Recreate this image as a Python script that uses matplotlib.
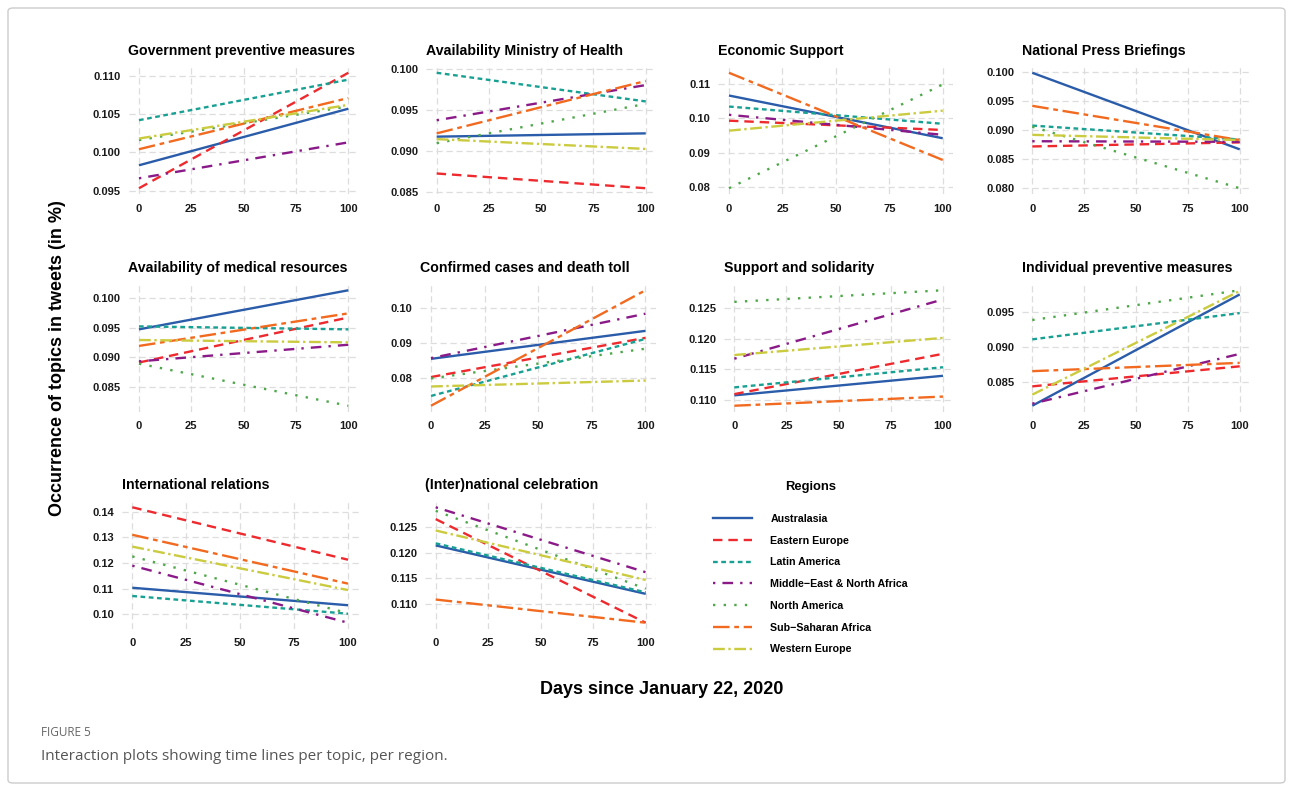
import matplotlib.pyplot as plt
from matplotlib.patches import FancyBboxPatch
from matplotlib.lines import Line2D

plt.rcParams['font.family'] = ['Liberation Sans', 'DejaVu Sans']

# data: value at day 0 and day 100, one pair per region
days = [0, 100]
regions = ["Australasia", "Eastern Europe", "Latin America",
           "Middle\u2212East & North Africa", "North America",
           "Sub\u2212Saharan Africa", "Western Europe"]

gov_prev = [[0.0983, 0.1057], [0.0953, 0.1104], [0.1042, 0.1095], [0.0966, 0.1013],
            [0.1016, 0.1060], [0.1004, 0.1071], [0.1018, 0.1062]]
ministry = [[0.0917, 0.0921], [0.0872, 0.0854], [0.0995, 0.0960], [0.0937, 0.0980],
            [0.0909, 0.0957], [0.0921, 0.0985], [0.0914, 0.0902]]
econ = [[0.1066, 0.0942], [0.0993, 0.0966], [0.1034, 0.0984], [0.1010, 0.0952],
        [0.0797, 0.1098], [0.1132, 0.0879], [0.0964, 0.1022]]
press = [[0.0999, 0.0867], [0.0872, 0.0879], [0.0908, 0.0884], [0.0881, 0.0880],
         [0.0906, 0.0800], [0.0942, 0.0883], [0.0892, 0.0883]]
medical = [[0.0947, 0.1013], [0.0891, 0.0967], [0.0952, 0.0947], [0.0893, 0.0921],
           [0.0889, 0.0818], [0.0919, 0.0974], [0.0929, 0.0925]]
cases = [[0.0855, 0.0935], [0.0803, 0.0915], [0.0749, 0.0912], [0.0857, 0.0984],
         [0.0799, 0.0884], [0.0721, 0.1051], [0.0776, 0.0793]]
support = [[0.1107, 0.1139], [0.1109, 0.1175], [0.1120, 0.1153], [0.1167, 0.1264],
           [0.1260, 0.1279], [0.1090, 0.1105], [0.1173, 0.1201]]
individual = [[0.0815, 0.0976], [0.0843, 0.0872], [0.0911, 0.0949], [0.0818, 0.0890],
              [0.0939, 0.0982], [0.0865, 0.0877], [0.0831, 0.0981]]
intl = [[0.1104, 0.1036], [0.1417, 0.1213], [0.1072, 0.1003], [0.1190, 0.0968],
        [0.1226, 0.1005], [0.1310, 0.1120], [0.1264, 0.1095]]
celebration = [[0.1214, 0.1120], [0.1265, 0.1064], [0.1218, 0.1123], [0.1288, 0.1162],
               [0.1281, 0.1130], [0.1109, 0.1064], [0.1243, 0.1147]]

titles = ["Government preventive measures", "Availability Ministry of Health",
          "Economic Support", "National Press Briefings",
          "Availability of medical resources", "Confirmed cases and death toll",
          "Support and solidarity", "Individual preventive measures",
          "International relations", "(Inter)national celebration"]
topic_data = [gov_prev, ministry, econ, press, medical, cases, support,
              individual, intl, celebration]
ytick_labels = [["0.095", "0.100", "0.105", "0.110"],
                ["0.085", "0.090", "0.095", "0.100"],
                ["0.08", "0.09", "0.10", "0.11"],
                ["0.080", "0.085", "0.090", "0.095", "0.100"],
                ["0.085", "0.090", "0.095", "0.100"],
                ["0.08", "0.09", "0.10"],
                ["0.110", "0.115", "0.120", "0.125"],
                ["0.085", "0.090", "0.095"],
                ["0.10", "0.11", "0.12", "0.13", "0.14"],
                ["0.110", "0.115", "0.120", "0.125"]]
xticks = [0, 25, 50, 75, 100]

colors = ["#2A5CAA", "#EE2A2E", "#18A192", "#8B1A89", "#4EA84A", "#F26A1F", "#CBCB3F"]
styles = ["solid", (0, (4, 2.5)), (0, (2, 1.5)), (0, (1, 3, 4.5, 3)),
          (0, (1, 3.5)), (0, (7, 2, 2, 2)), (0, (5, 1.5, 1, 1.5))]

W, H = 1293, 791
fig = plt.figure(figsize=(W / 100, H / 100), dpi=100)

# panel layout in pixels
lefts = [[128.5, 426.2, 718.3, 1021.9], [128.5, 420.3, 723.9, 1021.9], [121.5, 425.2]]
rights = [358.8, 656.2, 953.4, 1250.1]
tops = [67, 284.5, 501.5]
ph = 127

k = 0
for r in range(3):
    for c in range(len(lefts[r])):
        x0 = lefts[r][c]
        x1 = rights[c]
        ax = fig.add_axes([x0 / W, 1 - (tops[r] + ph) / H, (x1 - x0) / W, ph / H])
        for i, vals in enumerate(topic_data[k]):
            ax.plot(days, vals, color=colors[i], linestyle=styles[i], lw=1.7,
                    solid_capstyle='butt', dash_capstyle='butt')
        ax.set_yticks([float(t) for t in ytick_labels[k]])
        ax.set_yticklabels(ytick_labels[k])
        ax.set_xticks(xticks)
        ax.grid(True, color="#DDDDDD", linestyle=(0, (5, 3)), lw=0.9)
        ax.set_axisbelow(True)
        for s in ax.spines.values():
            s.set_visible(False)
        ax.tick_params(axis='y', length=0, labelsize=8, pad=5.5, labelcolor="#1a1a1a")
        ax.tick_params(axis='x', length=0, labelsize=8, pad=7, labelcolor="#1a1a1a")
        for lab in ax.get_xticklabels() + ax.get_yticklabels():
            lab.set_fontweight('bold')
        ax.set_title(titles[k], loc='left', fontsize=10.2, fontweight='bold', pad=9)
        k += 1

handles = [Line2D([0], [0], color=colors[i], linestyle=styles[i], lw=1.7)
           for i in range(len(regions))]
leg = fig.legend(handles, regions, loc='upper left',
                 bbox_to_anchor=(712.7 / W, 1 - 481 / H), frameon=False,
                 title="Regions", handlelength=3.7, handletextpad=1.7,
                 labelspacing=1.1, borderpad=0, borderaxespad=0,
                 prop={'size': 7.7, 'weight': 'bold'})
leg.get_title().set_fontsize(9.4)
leg.get_title().set_fontweight('bold')
leg._legend_box.sep = 15

fig.text(58 / W, 1 - 358 / H, "Occurrence of topics in tweets (in %)", rotation=90,
         ha='center', va='center', fontsize=13, fontweight='bold')
fig.text(662 / W, 1 - 689 / H, "Days since January 22, 2020", ha='center',
         va='center', fontsize=13, fontweight='bold')

fig.text(41 / W, 1 - 732 / H, "FIGURE 5", ha='left', va='center', fontsize=8.5,
         color="#666666", family=['Open Sans', 'DejaVu Sans'])
fig.text(41 / W, 1 - 757 / H, "Interaction plots showing time lines per topic, per region.",
         ha='left', va='center', fontsize=11, color="#555555",
         family=['Open Sans', 'DejaVu Sans'])

frame = FancyBboxPatch((8 / W, 8 / H), 1 - 16 / W, 1 - 16 / H,
                       boxstyle="round,pad=0,rounding_size=0.004",
                       transform=fig.transFigure, fill=False,
                       edgecolor="#CCCCCC", lw=1)
fig.patches.append(frame)

fig.savefig("out.png", dpi=100)
